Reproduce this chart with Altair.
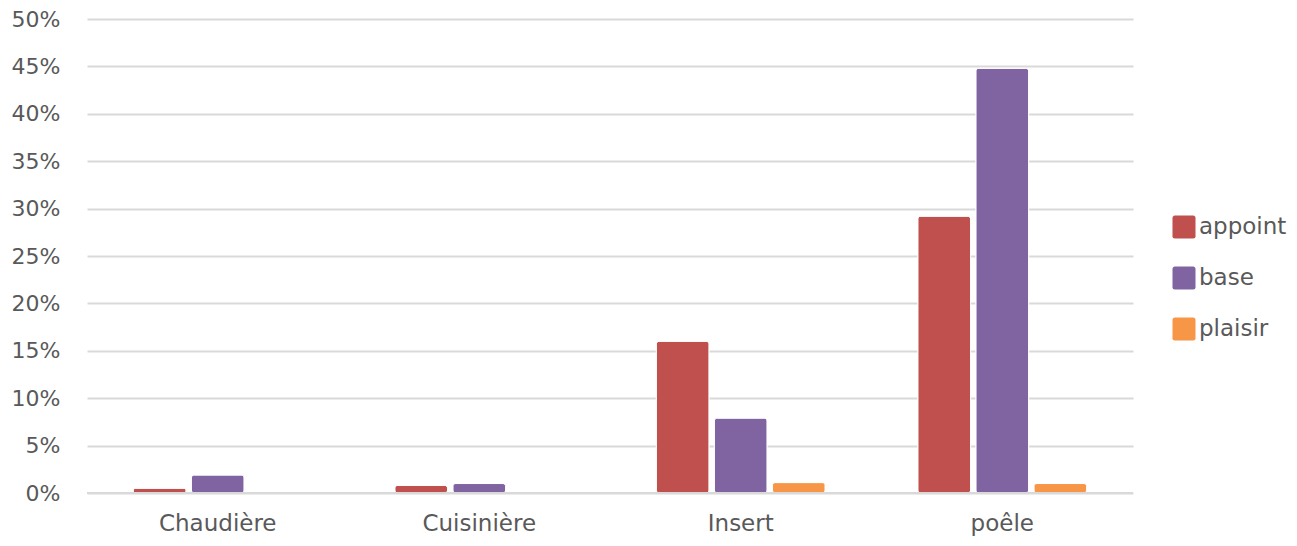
import altair as alt
import pandas as pd

categories = ["Chaudière", "Cuisinière", "Insert", "poêle"]
series = ["appoint", "base", "plaisir"]
appoint = [0.005, 0.008, 0.160, 0.292]
base = [0.019, 0.010, 0.079, 0.448]
plaisir = [None, None, 0.011, 0.010]
colors = ["#C0504D", "#8064A2", "#F79646"]

rows = []
for vals, s in zip([appoint, base, plaisir], series):
    for c, v in zip(categories, vals):
        if v is not None:
            rows.append({"cat": c, "serie": s, "val": v})
df = pd.DataFrame(rows)

FONT = "DejaVu Sans"
LABEL = "#595959"
rsq = "M -0.8,-1 H 0.8 A 0.2 0.2 0 0 1 1,-0.8 V 0.8 A 0.2 0.2 0 0 1 0.8,1 H -0.8 A 0.2 0.2 0 0 1 -1,0.8 V -0.8 A 0.2 0.2 0 0 1 -0.8,-1 Z"

bars = alt.Chart(df).mark_bar(cornerRadius=3, stroke="white", strokeWidth=1).encode(
    x=alt.X("cat:N", sort=categories, title=None,
            scale=alt.Scale(paddingInner=0.354, paddingOuter=0.177),
            axis=alt.Axis(labelAngle=0, labelFont=FONT, labelFontSize=23, labelColor=LABEL,
                          labelPadding=19, domain=False, ticks=False)),
    xOffset=alt.XOffset("serie:N", sort=series, scale=alt.Scale(domain=series, paddingInner=0.09)),
    y=alt.Y("val:Q", title=None,
            scale=alt.Scale(domain=[0, 0.5], nice=False),
            axis=alt.Axis(format=".0%", values=[i * 0.05 for i in range(11)],
                          labelFont=FONT, labelFontSize=22, labelColor=LABEL,
                          labelPadding=27, domain=False, ticks=False,
                          gridColor="#d9d9d9", gridWidth=2)),
    color=alt.Color("serie:N", sort=series, title=None,
                    scale=alt.Scale(domain=series, range=colors),
                    legend=alt.Legend(orient="none", legendX=1085, legendY=196,
                                      symbolType=rsq, symbolSize=530, symbolStrokeWidth=0,
                                      symbolOpacity=1,
                                      labelFont=FONT, labelFontSize=23, labelColor=LABEL,
                                      rowPadding=27, labelOffset=3)),
)

zero = alt.Chart(pd.DataFrame({"z": [0]})).mark_rule(color="#d9d9d9", strokeWidth=2).encode(y="z:Q")

chart = alt.layer(bars, zero).properties(
    width=1046, height=474,
    autosize=alt.AutoSizeParams(type="none"),
    padding={"left": 79, "top": 11, "right": 156, "bottom": 45},
).configure_view(stroke=None)

chart.save("out.html", embed_options={"renderer": "svg", "actions": False})
